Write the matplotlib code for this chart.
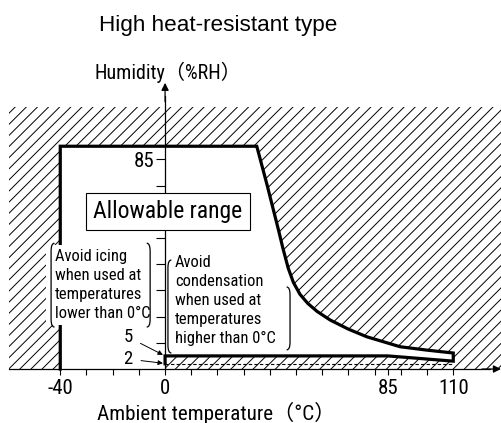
import matplotlib
matplotlib.use('Agg')
import matplotlib.pyplot as plt
from matplotlib.patches import Rectangle, Polygon, PathPatch
from matplotlib.path import Path

plt.rcParams['font.family'] = ['Noto Sans Condensed', 'Roboto Condensed', 'DejaVu Sans Condensed',
                               'Roboto', 'Noto Sans CJK JP', 'DejaVu Sans']
plt.rcParams['font.stretch'] = 'condensed'
plt.rcParams['hatch.linewidth'] = 0.7

# allowable range outline (temperature degC, humidity %RH)
edge_x = [-40, -40, 35]
edge_y = [0, 85, 85]
curve_x = [35, 39, 43.3, 45, 47, 49, 51.5, 54.5, 58, 63, 70, 77, 89.7, 100, 110]
curve_y = [85, 70, 53, 46, 38.5, 33, 28.5, 25, 22, 18.7, 15.2, 12.3, 8.5, 7.2, 6.1]
band_x = [110, 110, 85, 0, 0]
band_y = [6.1, 3.0, 5, 5, 2]
dash_x = [0, 110]
dash_y = [2, 2]

# hatched (not allowed) area
hatch_x = [-59.5, 128.6]
hatch_y = [0, 100]

x_major = [-40, 0, 85, 110]
x_minor = [-30, -20, -10, 10, 20, 30, 40, 50, 60, 70, 80, 90, 100]
y_ticks = [10, 20, 30, 40, 50, 60, 70, 80]
y_labels = ['', '', '', '', '', '', '', '85']


def bracket(ax, x, y0, y1, side):
    d = 1.3 * side
    h = 3.0
    verts = [(x + d, y1), (x, y1), (x, y1 - h), (x, y0 + h), (x, y0), (x + d, y0)]
    codes = [Path.MOVETO, Path.CURVE3, Path.CURVE3, Path.LINETO, Path.CURVE3, Path.CURVE3]
    ax.add_patch(PathPatch(Path(verts, codes), fill=False, lw=0.9, ec='k', zorder=6))


fig = plt.figure(figsize=(5.02, 4.23), dpi=100)
ax = fig.add_axes([0, 0, 1, 1])
ax.set_xlim(-63.0, 128.6)
ax.set_ylim(-20.6, 140.8)

# hatch background
ax.add_patch(Rectangle((hatch_x[0], hatch_y[0]), hatch_x[1] - hatch_x[0], hatch_y[1] - hatch_y[0],
                       fc='white', ec='black', lw=0, hatch='///', zorder=1))

# white allowable region
px = edge_x + curve_x[1:] + band_x[1:-1] + [0]
py = edge_y + curve_y[1:] + band_y[1:-1] + [0]
ax.add_patch(Polygon(list(zip(px, py)), closed=True, fc='white', ec='none', zorder=1.2))

# outline
ax.plot(edge_x + curve_x[1:] + band_x[1:], edge_y + curve_y[1:] + band_y[1:],
        color='black', lw=2.3, solid_joinstyle='miter', zorder=3)
ax.plot(dash_x, dash_y, color='black', lw=0.8, ls=(0, (3, 2)), zorder=3)

# axes
for s in ['top', 'right']:
    ax.spines[s].set_visible(False)
ax.spines['left'].set_position(('data', 0))
ax.spines['bottom'].set_position(('data', 0))
ax.spines['left'].set_bounds(0, 104)
ax.spines['bottom'].set_bounds(-59.5, 124)
ax.spines['left'].set_linewidth(0.9)
ax.spines['bottom'].set_linewidth(0.9)
ax.annotate('', xy=(0, 109.2), xytext=(0, 102), zorder=3,
            arrowprops=dict(arrowstyle='-|>', color='black', lw=0.9, mutation_scale=11, shrinkA=0, shrinkB=0))
ax.annotate('', xy=(128.2, 0), xytext=(121, 0), zorder=3,
            arrowprops=dict(arrowstyle='-|>', color='black', lw=0.9, mutation_scale=11, shrinkA=0, shrinkB=0))

ax.set_xticks(x_major)
ax.set_xticklabels([str(v) for v in x_major])
ax.set_xticks(x_minor, minor=True)
ax.set_yticks(y_ticks)
ax.set_yticklabels(y_labels)
ax.tick_params(axis='x', which='both', direction='out', length=4.5, width=0.8, labelsize=15, pad=3)
ax.tick_params(axis='y', direction='out', length=6.5, width=0.8, labelsize=15, pad=1.5)

# band labels 5 and 2
ax.annotate('5', xy=(-0.8, 5.4), xytext=(-14.1, 12.2), ha='center', va='center', fontsize=13.5,
            arrowprops=dict(arrowstyle='-|>', color='black', lw=0.7, mutation_scale=7, shrinkA=4, shrinkB=0))
ax.annotate('2', xy=(-0.8, 2.2), xytext=(-14.1, 3.8), ha='center', va='center', fontsize=13.5,
            arrowprops=dict(arrowstyle='-|>', color='black', lw=0.7, mutation_scale=7, shrinkA=4, shrinkB=0))

# allowable range box
ax.text(1.1, 60, 'Allowable range', ha='center', va='center', fontsize=17, zorder=6,
        bbox=dict(boxstyle='square,pad=0.3', fc='white', ec='black', lw=0.8))

# icing note
ax.add_patch(Rectangle((-45.5, 16.8), 41.5, 30.5, fc='white', ec='none', zorder=4))
ax.text(-42, 32.2, 'Avoid icing\nwhen used at\ntemperatures\nlower than 0°C', ha='left', va='center',
        fontsize=11.9, linespacing=1.33, zorder=5)
bracket(ax, -43.5, 16.0, 48.0, 1)
bracket(ax, -5.7, 16.0, 48.0, -1)

# condensation note
ax.text(3.8, 26, 'Avoid\ncondensation\nwhen used at\ntemperatures\nhigher than 0°C', ha='left', va='center',
        fontsize=11.9, linespacing=1.33, zorder=5)
bracket(ax, 1.1, 6.1, 41.6, 1)
bracket(ax, 47.7, 7.3, 31.3, -1)

fig.text(218 / 502, 1 - 25 / 423, 'High heat-resistant type', ha='center', va='center',
         fontsize=16.2, family='Liberation Sans', stretch='normal')
fig.text(95 / 502, 1 - 72 / 423, 'Humidity（%RH）', ha='left', va='center', fontsize=14.5)
fig.text(97 / 502, 1 - 413 / 423, 'Ambient temperature（°C）', ha='left', va='center', fontsize=15.2)

fig.savefig('out.png', dpi=100)
